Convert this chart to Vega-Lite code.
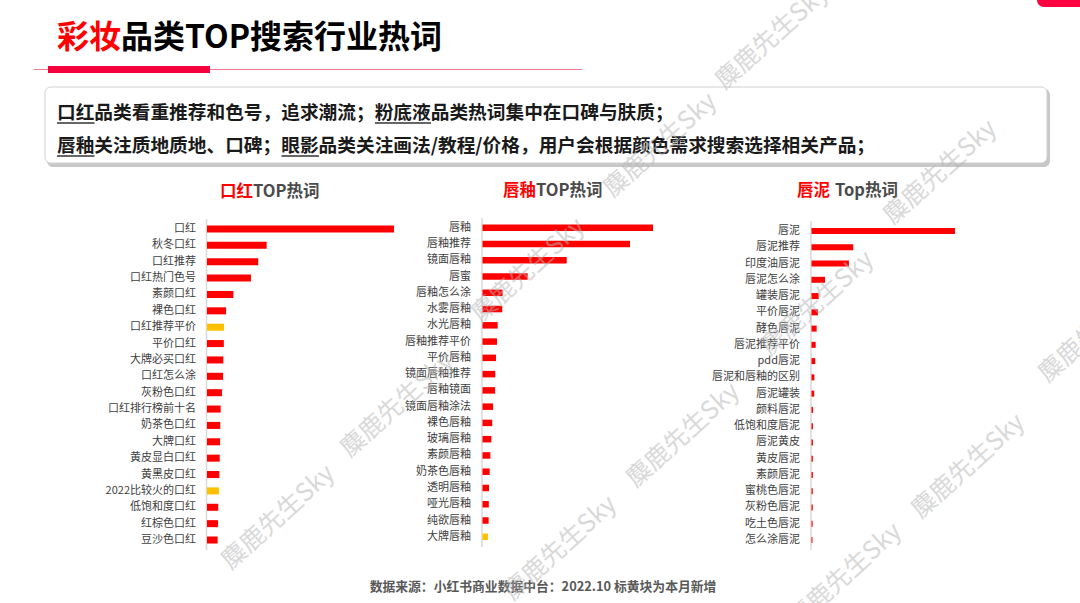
{
  "$schema": "https://vega.github.io/schema/vega-lite/v6.json",
  "width": 1080,
  "height": 603,
  "padding": 0,
  "autosize": "none",
  "background": "#ffffff",
  "config": {"view": {"stroke": null}, "font": "Noto Sans CJK SC", "text": {"font": "Noto Sans CJK SC"}},
  "datasets": {
    "words": [
      {"panel": "口红", "word": "口红", "value": 100, "new": "否"},
      {"panel": "口红", "word": "秋冬口红", "value": 31.9, "new": "否"},
      {"panel": "口红", "word": "口红推荐", "value": 27.4, "new": "否"},
      {"panel": "口红", "word": "口红热门色号", "value": 23.5, "new": "否"},
      {"panel": "口红", "word": "素颜口红", "value": 14.1, "new": "否"},
      {"panel": "口红", "word": "裸色口红", "value": 10.2, "new": "否"},
      {"panel": "口红", "word": "口红推荐平价", "value": 9.1, "new": "是"},
      {"panel": "口红", "word": "平价口红", "value": 9.0, "new": "否"},
      {"panel": "口红", "word": "大牌必买口红", "value": 8.7, "new": "否"},
      {"panel": "口红", "word": "口红怎么涂", "value": 8.6, "new": "否"},
      {"panel": "口红", "word": "灰粉色口红", "value": 8.0, "new": "否"},
      {"panel": "口红", "word": "口红排行榜前十名", "value": 7.3, "new": "否"},
      {"panel": "口红", "word": "奶茶色口红", "value": 7.1, "new": "否"},
      {"panel": "口红", "word": "大牌口红", "value": 7.0, "new": "否"},
      {"panel": "口红", "word": "黄皮显白口红", "value": 6.8, "new": "否"},
      {"panel": "口红", "word": "黄黑皮口红", "value": 6.6, "new": "否"},
      {"panel": "口红", "word": "2022比较火的口红", "value": 6.4, "new": "是"},
      {"panel": "口红", "word": "低饱和度口红", "value": 6.0, "new": "否"},
      {"panel": "口红", "word": "红棕色口红", "value": 5.9, "new": "否"},
      {"panel": "口红", "word": "豆沙色口红", "value": 5.7, "new": "否"},
      {"panel": "唇釉", "word": "唇釉", "value": 100, "new": "否"},
      {"panel": "唇釉", "word": "唇釉推荐", "value": 86.5, "new": "否"},
      {"panel": "唇釉", "word": "镜面唇釉", "value": 49.4, "new": "否"},
      {"panel": "唇釉", "word": "唇蜜", "value": 26.5, "new": "否"},
      {"panel": "唇釉", "word": "唇釉怎么涂", "value": 11.8, "new": "否"},
      {"panel": "唇釉", "word": "水雾唇釉", "value": 11.6, "new": "否"},
      {"panel": "唇釉", "word": "水光唇釉", "value": 8.9, "new": "否"},
      {"panel": "唇釉", "word": "唇釉推荐平价", "value": 8.5, "new": "否"},
      {"panel": "唇釉", "word": "平价唇釉", "value": 7.9, "new": "否"},
      {"panel": "唇釉", "word": "镜面唇釉推荐", "value": 7.5, "new": "否"},
      {"panel": "唇釉", "word": "唇釉镜面", "value": 7.4, "new": "否"},
      {"panel": "唇釉", "word": "镜面唇釉涂法", "value": 6.2, "new": "否"},
      {"panel": "唇釉", "word": "裸色唇釉", "value": 5.7, "new": "否"},
      {"panel": "唇釉", "word": "玻璃唇釉", "value": 5.2, "new": "否"},
      {"panel": "唇釉", "word": "素颜唇釉", "value": 4.6, "new": "否"},
      {"panel": "唇釉", "word": "奶茶色唇釉", "value": 4.2, "new": "否"},
      {"panel": "唇釉", "word": "透明唇釉", "value": 3.8, "new": "否"},
      {"panel": "唇釉", "word": "哑光唇釉", "value": 3.7, "new": "否"},
      {"panel": "唇釉", "word": "纯欲唇釉", "value": 3.6, "new": "否"},
      {"panel": "唇釉", "word": "大牌唇釉", "value": 3.2, "new": "是"},
      {"panel": "唇泥", "word": "唇泥", "value": 100, "new": "否"},
      {"panel": "唇泥", "word": "唇泥推荐", "value": 29.1, "new": "否"},
      {"panel": "唇泥", "word": "印度油唇泥", "value": 26.1, "new": "否"},
      {"panel": "唇泥", "word": "唇泥怎么涂", "value": 9.4, "new": "否"},
      {"panel": "唇泥", "word": "罐装唇泥", "value": 5.0, "new": "否"},
      {"panel": "唇泥", "word": "平价唇泥", "value": 4.5, "new": "否"},
      {"panel": "唇泥", "word": "酵色唇泥", "value": 3.6, "new": "否"},
      {"panel": "唇泥", "word": "唇泥推荐平价", "value": 2.9, "new": "否"},
      {"panel": "唇泥", "word": "pdd唇泥", "value": 2.6, "new": "否"},
      {"panel": "唇泥", "word": "唇泥和唇釉的区别", "value": 2.0, "new": "否"},
      {"panel": "唇泥", "word": "唇泥罐装", "value": 1.9, "new": "否"},
      {"panel": "唇泥", "word": "颜料唇泥", "value": 1.1, "new": "否"},
      {"panel": "唇泥", "word": "低饱和度唇泥", "value": 1.0, "new": "否"},
      {"panel": "唇泥", "word": "唇泥黄皮", "value": 1.0, "new": "否"},
      {"panel": "唇泥", "word": "黄皮唇泥", "value": 0.95, "new": "否"},
      {"panel": "唇泥", "word": "素颜唇泥", "value": 0.95, "new": "否"},
      {"panel": "唇泥", "word": "蜜桃色唇泥", "value": 0.9, "new": "否"},
      {"panel": "唇泥", "word": "灰粉色唇泥", "value": 0.9, "new": "否"},
      {"panel": "唇泥", "word": "吃土色唇泥", "value": 0.8, "new": "否"},
      {"panel": "唇泥", "word": "怎么涂唇泥", "value": 0.7, "new": "否"}
    ],
    "deco": [{"k": 1}],
    "heading": [{"rest": "品类TOP搜索行业热词", "red": "彩妆"}],
    "summary": [{"l1": "口红品类看重推荐和色号，追求潮流；粉底液品类热词集中在口碑与肤质；", "l2": "唇釉关注质地质地、口碑；眼影品类关注画法/教程/价格，用户会根据颜色需求搜索选择相关产品；"}],
    "source": [{"t": "数据来源：小红书商业数据中台：2022.10 标黄块为本月新增"}],
    "ptitles": [{"p1": "TOP热词", "p1r": "口红", "p2": "TOP热词", "p2r": "唇釉", "p3": "Top热词", "p3r": "唇泥"}],
    "wm": [{"t": "麋鹿先生Sky"}]
  },
  "resolve": {"scale": {"x": "independent", "y": "independent"}},
  "layer": [
    {"data": {"name": "deco"}, "mark": {"type": "rect", "color": "#ff0040", "cornerRadius": 7}, "encoding": {"x": {"value": 1037}, "x2": {"value": 1095}, "y": {"value": -10}, "y2": {"value": 7}}},
    {"data": {"name": "heading"}, "mark": {"type": "text", "align": "left", "baseline": "middle", "fontSize": 32, "fontWeight": "bold", "color": "#ff0000"}, "encoding": {"x": {"value": 57}, "y": {"value": 38}, "text": {"field": "red"}}},
    {"data": {"name": "heading"}, "mark": {"type": "text", "align": "left", "baseline": "middle", "fontSize": 32, "fontWeight": "bold", "color": "#000000"}, "encoding": {"x": {"value": 121}, "y": {"value": 38}, "text": {"field": "rest"}}},
    {"data": {"name": "deco"}, "mark": {"type": "rule", "color": "#f27a90", "strokeWidth": 1}, "encoding": {"x": {"value": 34}, "x2": {"value": 582}, "y": {"value": 69.5}}},
    {"data": {"name": "deco"}, "mark": {"type": "rect", "color": "#f5003c"}, "encoding": {"x": {"value": 48}, "x2": {"value": 210}, "y": {"value": 66}, "y2": {"value": 73}}},
    {"data": {"name": "deco"}, "mark": {"type": "rect", "color": "#9a9a9a", "opacity": 0.55, "cornerRadius": 6}, "encoding": {"x": {"value": 47}, "x2": {"value": 1050}, "y": {"value": 89}, "y2": {"value": 167}}},
    {"data": {"name": "deco"}, "mark": {"type": "rect", "color": "#ffffff", "stroke": "#d0d0d0", "strokeWidth": 1, "cornerRadius": 6}, "encoding": {"x": {"value": 45}, "x2": {"value": 1047}, "y": {"value": 87}, "y2": {"value": 163}}},
    {"data": {"name": "summary"}, "mark": {"type": "text", "align": "left", "baseline": "middle", "fontSize": 18.7, "fontWeight": "bold", "color": "#1a1a1a"}, "encoding": {"x": {"value": 57}, "y": {"value": 113}, "text": {"field": "l1"}}},
    {"data": {"name": "summary"}, "mark": {"type": "text", "align": "left", "baseline": "middle", "fontSize": 18.7, "fontWeight": "bold", "color": "#1a1a1a"}, "encoding": {"x": {"value": 57}, "y": {"value": 146}, "text": {"field": "l2"}}},
    {"data": {"name": "deco"}, "mark": {"type": "rule", "color": "#333333", "strokeWidth": 1.3}, "encoding": {"x": {"value": 57}, "x2": {"value": 94.5}, "y": {"value": 123}}},
    {"data": {"name": "deco"}, "mark": {"type": "rule", "color": "#333333", "strokeWidth": 1.3}, "encoding": {"x": {"value": 375}, "x2": {"value": 431}, "y": {"value": 123}}},
    {"data": {"name": "deco"}, "mark": {"type": "rule", "color": "#333333", "strokeWidth": 1.3}, "encoding": {"x": {"value": 57}, "x2": {"value": 94.5}, "y": {"value": 156}}},
    {"data": {"name": "deco"}, "mark": {"type": "rule", "color": "#333333", "strokeWidth": 1.3}, "encoding": {"x": {"value": 281.5}, "x2": {"value": 319}, "y": {"value": 156}}},
    {"data": {"name": "ptitles"}, "mark": {"type": "text", "align": "left", "baseline": "middle", "fontSize": 16.5, "fontWeight": "bold", "color": "#ff0000"}, "encoding": {"x": {"value": 220}, "y": {"value": 192}, "text": {"field": "p1r"}}},
    {"data": {"name": "ptitles"}, "mark": {"type": "text", "align": "left", "baseline": "middle", "fontSize": 16.5, "fontWeight": "bold", "color": "#4a4a4a"}, "encoding": {"x": {"value": 253}, "y": {"value": 192}, "text": {"field": "p1"}}},
    {"data": {"name": "ptitles"}, "mark": {"type": "text", "align": "left", "baseline": "middle", "fontSize": 16.5, "fontWeight": "bold", "color": "#ff0000"}, "encoding": {"x": {"value": 503}, "y": {"value": 191}, "text": {"field": "p2r"}}},
    {"data": {"name": "ptitles"}, "mark": {"type": "text", "align": "left", "baseline": "middle", "fontSize": 16.5, "fontWeight": "bold", "color": "#4a4a4a"}, "encoding": {"x": {"value": 536}, "y": {"value": 191}, "text": {"field": "p2"}}},
    {"data": {"name": "ptitles"}, "mark": {"type": "text", "align": "left", "baseline": "middle", "fontSize": 16.5, "fontWeight": "bold", "color": "#ff0000"}, "encoding": {"x": {"value": 797}, "y": {"value": 191}, "text": {"field": "p3r"}}},
    {"data": {"name": "ptitles"}, "mark": {"type": "text", "align": "left", "baseline": "middle", "fontSize": 16.5, "fontWeight": "bold", "color": "#4a4a4a"}, "encoding": {"x": {"value": 835}, "y": {"value": 191}, "text": {"field": "p3"}}},
    {"data": {"name": "deco"}, "mark": {"type": "rule", "color": "#d9d9d9", "strokeWidth": 1.5}, "encoding": {"x": {"value": 206.5}, "y": {"value": 219}, "y2": {"value": 550}}},
    {"data": {"name": "deco"}, "mark": {"type": "rule", "color": "#d9d9d9", "strokeWidth": 1.5}, "encoding": {"x": {"value": 482}, "y": {"value": 218}, "y2": {"value": 547}}},
    {"data": {"name": "deco"}, "mark": {"type": "rule", "color": "#d9d9d9", "strokeWidth": 1.5}, "encoding": {"x": {"value": 811}, "y": {"value": 221}, "y2": {"value": 550}}},
    {
      "data": {"name": "words"},
      "transform": [{"filter": "datum.panel == '口红'"}],
      "layer": [
        {"mark": {"type": "bar"}, "encoding": {
          "y": {"field": "word", "type": "nominal", "sort": null, "axis": null, "scale": {"range": [220.8, 548.2], "paddingInner": 0.57, "paddingOuter": 0.285}},
          "x": {"field": "value", "type": "quantitative", "axis": null, "scale": {"domain": [0, 100], "range": [207, 394], "nice": false}},
          "color": {"field": "new", "type": "nominal", "legend": null, "scale": {"domain": ["否", "是"], "range": ["#ff0000", "#ffc000"]}}}},
        {"mark": {"type": "text", "align": "right", "baseline": "middle", "fontSize": 11, "color": "#404040"}, "encoding": {
          "y": {"field": "word", "type": "nominal", "sort": null, "axis": null},
          "x": {"value": 196},
          "text": {"field": "word"}}}
      ]
    },
    {
      "data": {"name": "words"},
      "transform": [{"filter": "datum.panel == '唇釉'"}],
      "layer": [
        {"mark": {"type": "bar"}, "encoding": {
          "y": {"field": "word", "type": "nominal", "sort": null, "axis": null, "scale": {"range": [219.6, 544.9], "paddingInner": 0.6, "paddingOuter": 0.3}},
          "x": {"field": "value", "type": "quantitative", "axis": null, "scale": {"domain": [0, 100], "range": [482.5, 653], "nice": false}},
          "color": {"field": "new", "type": "nominal", "legend": null, "scale": {"domain": ["否", "是"], "range": ["#ff0000", "#ffc000"]}}}},
        {"mark": {"type": "text", "align": "right", "baseline": "middle", "fontSize": 11, "color": "#404040"}, "encoding": {
          "y": {"field": "word", "type": "nominal", "sort": null, "axis": null},
          "x": {"value": 471},
          "text": {"field": "word"}}}
      ]
    },
    {
      "data": {"name": "words"},
      "transform": [{"filter": "datum.panel == '唇泥'"}],
      "layer": [
        {"mark": {"type": "bar"}, "encoding": {
          "y": {"field": "word", "type": "nominal", "sort": null, "axis": null, "scale": {"range": [222.9, 548.1], "paddingInner": 0.63, "paddingOuter": 0.315}},
          "x": {"field": "value", "type": "quantitative", "axis": null, "scale": {"domain": [0, 100], "range": [811.5, 955], "nice": false}},
          "color": {"field": "new", "type": "nominal", "legend": null, "scale": {"domain": ["否", "是"], "range": ["#ff0000", "#ffc000"]}}}},
        {"mark": {"type": "text", "align": "right", "baseline": "middle", "fontSize": 11, "color": "#404040"}, "encoding": {
          "y": {"field": "word", "type": "nominal", "sort": null, "axis": null},
          "x": {"value": 800},
          "text": {"field": "word"}}}
      ]
    },
    {"data": {"name": "source"}, "mark": {"type": "text", "align": "center", "baseline": "middle", "fontSize": 12.8, "fontWeight": "bold", "color": "#595959"}, "encoding": {"x": {"value": 543}, "y": {"value": 587}, "text": {"field": "t"}}},
    {"data": {"name": "wm"}, "mark": {"type": "text", "angle": -42, "fontSize": 25, "color": "#b5b5b5", "opacity": 0.5, "align": "center", "baseline": "middle"}, "encoding": {"x": {"value": 772}, "y": {"value": 37}, "text": {"field": "t"}}},
    {"data": {"name": "wm"}, "mark": {"type": "text", "angle": -42, "fontSize": 25, "color": "#b5b5b5", "opacity": 0.5, "align": "center", "baseline": "middle"}, "encoding": {"x": {"value": 940}, "y": {"value": 172}, "text": {"field": "t"}}},
    {"data": {"name": "wm"}, "mark": {"type": "text", "angle": -42, "fontSize": 25, "color": "#b5b5b5", "opacity": 0.5, "align": "center", "baseline": "middle"}, "encoding": {"x": {"value": 660}, "y": {"value": 145}, "text": {"field": "t"}}},
    {"data": {"name": "wm"}, "mark": {"type": "text", "angle": -42, "fontSize": 25, "color": "#b5b5b5", "opacity": 0.5, "align": "center", "baseline": "middle"}, "encoding": {"x": {"value": 528}, "y": {"value": 270}, "text": {"field": "t"}}},
    {"data": {"name": "wm"}, "mark": {"type": "text", "angle": -42, "fontSize": 25, "color": "#b5b5b5", "opacity": 0.5, "align": "center", "baseline": "middle"}, "encoding": {"x": {"value": 817}, "y": {"value": 303}, "text": {"field": "t"}}},
    {"data": {"name": "wm"}, "mark": {"type": "text", "angle": -42, "fontSize": 25, "color": "#b5b5b5", "opacity": 0.5, "align": "center", "baseline": "middle"}, "encoding": {"x": {"value": 397}, "y": {"value": 405}, "text": {"field": "t"}}},
    {"data": {"name": "wm"}, "mark": {"type": "text", "angle": -42, "fontSize": 25, "color": "#b5b5b5", "opacity": 0.5, "align": "center", "baseline": "middle"}, "encoding": {"x": {"value": 683}, "y": {"value": 435}, "text": {"field": "t"}}},
    {"data": {"name": "wm"}, "mark": {"type": "text", "angle": -42, "fontSize": 25, "color": "#b5b5b5", "opacity": 0.5, "align": "center", "baseline": "middle"}, "encoding": {"x": {"value": 968}, "y": {"value": 466}, "text": {"field": "t"}}},
    {"data": {"name": "wm"}, "mark": {"type": "text", "angle": -42, "fontSize": 25, "color": "#b5b5b5", "opacity": 0.5, "align": "center", "baseline": "middle"}, "encoding": {"x": {"value": 278}, "y": {"value": 517}, "text": {"field": "t"}}},
    {"data": {"name": "wm"}, "mark": {"type": "text", "angle": -42, "fontSize": 25, "color": "#b5b5b5", "opacity": 0.5, "align": "center", "baseline": "middle"}, "encoding": {"x": {"value": 560}, "y": {"value": 548}, "text": {"field": "t"}}},
    {"data": {"name": "wm"}, "mark": {"type": "text", "angle": -42, "fontSize": 25, "color": "#b5b5b5", "opacity": 0.5, "align": "center", "baseline": "middle"}, "encoding": {"x": {"value": 845}, "y": {"value": 575}, "text": {"field": "t"}}},
    {"data": {"name": "wm"}, "mark": {"type": "text", "angle": -42, "fontSize": 25, "color": "#b5b5b5", "opacity": 0.5, "align": "center", "baseline": "middle"}, "encoding": {"x": {"value": 1095}, "y": {"value": 330}, "text": {"field": "t"}}}
  ]
}
